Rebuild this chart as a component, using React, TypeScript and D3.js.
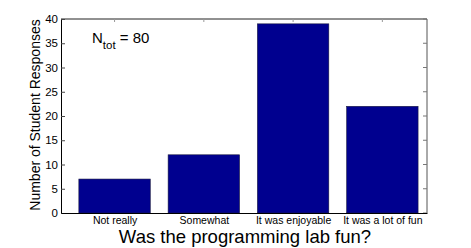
import React, { useRef, useEffect } from "react";
import * as d3 from "d3";

const categories = ["Not really", "Somewhat", "It was enjoyable", "It was a lot of fun"];
const responses = [7, 12, 39, 22];
const yTicks = [0, 5, 10, 15, 20, 25, 30, 35, 40];

const W = 471;
const H = 248;
const FONT = "'Liberation Sans', Arial, Helvetica, sans-serif";

const App = () => {
  const svgRef = useRef<SVGSVGElement>(null);

  useEffect(() => {
    const svg = d3.select(svgRef.current);
    svg.selectAll("*").remove();

    const left = 61, right = 427, top = 19, bottom = 213;

    // MATLAB-like axes: bars centred at 1..4
    const x = d3.scaleLinear().domain([0.4, 4.5]).range([left, right]);
    const y = d3.scaleLinear().domain([0, 40]).range([bottom, top]);
    const barW = x(1.8) - x(1);

    svg.append("rect").attr("width", W).attr("height", H).attr("fill", "#fff");

    // bars
    svg.append("g")
      .selectAll("rect")
      .data(responses)
      .join("rect")
      .attr("x", (d, i) => x(i + 1) - barW / 2)
      .attr("y", (d) => y(d))
      .attr("width", barW)
      .attr("height", (d) => y(0) - y(d))
      .attr("fill", "#00008f")
      .attr("stroke", "#1a1a40")
      .attr("stroke-width", 0.6);

    // box
    svg.append("line").attr("x1", left).attr("x2", right).attr("y1", top).attr("y2", top).attr("stroke", "#222");
    svg.append("line").attr("x1", right).attr("x2", right).attr("y1", top).attr("y2", bottom).attr("stroke", "#555");

    // y axis
    const yAxis = svg.append("g")
      .attr("transform", `translate(${left},0)`)
      .call(d3.axisLeft(y).tickValues(yTicks).tickSize(-4).tickPadding(3));
    yAxis.select(".domain").attr("stroke", "#000");
    yAxis.selectAll(".tick line").attr("stroke", "#444");
    yAxis.selectAll(".tick text")
      .attr("fill", "#000")
      .style("font-family", FONT)
      .style("font-size", "11.5px");

    // right ticks
    svg.append("g")
      .selectAll("line")
      .data(yTicks)
      .join("line")
      .attr("x1", right - 4)
      .attr("x2", right)
      .attr("y1", (d) => y(d))
      .attr("y2", (d) => y(d))
      .attr("stroke", "#777");

    // top ticks
    svg.append("g")
      .selectAll("line")
      .data(categories)
      .join("line")
      .attr("x1", (d, i) => x(i + 1))
      .attr("x2", (d, i) => x(i + 1))
      .attr("y1", top)
      .attr("y2", top + 3)
      .attr("stroke", "#999");

    // x axis
    const xAxis = svg.append("g")
      .attr("transform", `translate(0,${bottom})`)
      .call(
        d3.axisBottom(x)
          .tickValues([1, 2, 3, 4])
          .tickFormat((d) => categories[(d as number) - 1])
          .tickSize(0)
          .tickPadding(3.5)
      );
    xAxis.select(".domain").attr("stroke", "#000");
    xAxis.selectAll(".tick text")
      .attr("fill", "#000")
      .style("font-family", FONT)
      .style("font-size", "10.5px");

    // y label
    svg.append("text")
      .attr("transform", `translate(40,${(top + bottom) / 2 - 1}) rotate(-90)`)
      .attr("text-anchor", "middle")
      .style("font-family", FONT)
      .style("font-size", "14px")
      .attr("fill", "#000")
      .text("Number of Student Responses");

    // title below
    svg.append("text")
      .attr("x", (left + right) / 2 + 1)
      .attr("y", 243)
      .attr("text-anchor", "middle")
      .style("font-family", FONT)
      .style("font-size", "18.5px")
      .attr("fill", "#000")
      .text("Was the programming lab fun?");

    // N_tot annotation
    const ann = svg.append("text")
      .attr("x", 92)
      .attr("y", 43)
      .style("font-family", FONT)
      .style("font-size", "15px")
      .attr("fill", "#000");
    ann.append("tspan").text("N");
    ann.append("tspan").attr("dy", 6).style("font-size", "11.5px").text("tot");
    ann.append("tspan").attr("dy", -6).text(" = 80");
  }, []);

  return <svg ref={svgRef} width={W} height={H} style={{ position: "absolute", left: 0, top: 0 }} />;
};

export default App;
